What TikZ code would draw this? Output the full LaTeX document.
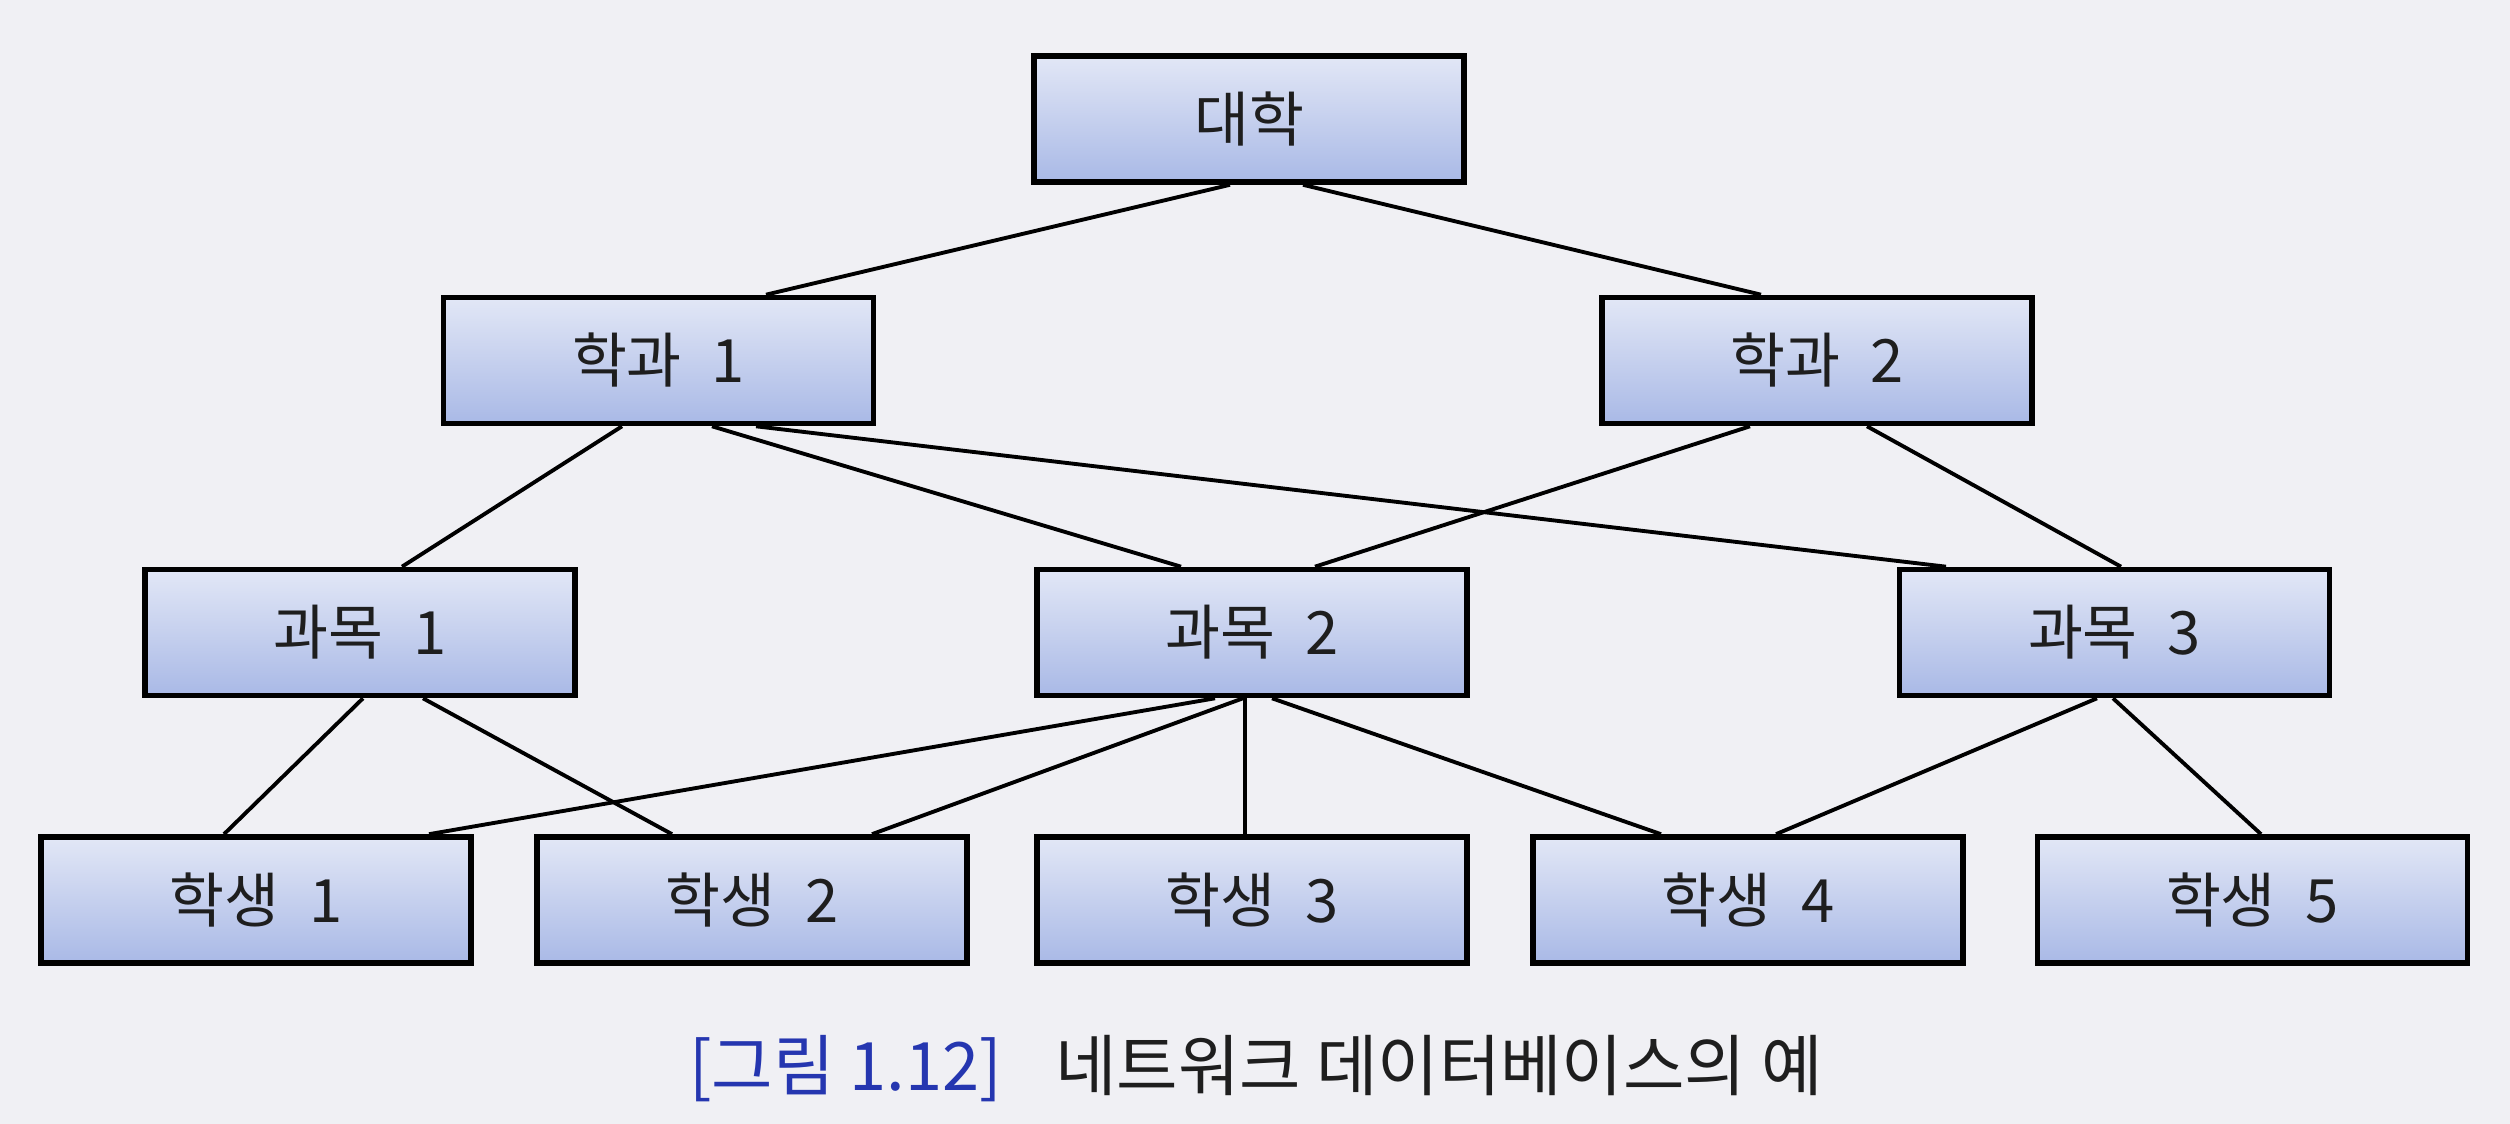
\documentclass[tikz,border=0pt]{standalone}
\usepackage{fontspec}
\setmainfont{Noto Sans CJK KR}
\newfontfamily\kr{Noto Sans CJK KR}
\newcommand{\lblsp}{\hspace{0.5em}}
\definecolor{bgc}{HTML}{F0F0F4}
\definecolor{boxtop}{HTML}{E2E7F6}
\definecolor{boxbot}{HTML}{A9B9E6}
\definecolor{capblue}{HTML}{2536B0}
\definecolor{txt}{HTML}{1E1E1E}
\tikzset{
  dbbox/.style={draw=black, line width=1.6pt, top color=boxtop, bottom color=boxbot,
    minimum width=4.30cm, minimum height=1.26cm, inner sep=0pt,
    font=\kr\fontsize{17}{20}\selectfont, text=txt},
  link/.style={draw=black, line width=1.1pt},
}
\begin{document}
\begin{tikzpicture}
\fill[bgc] (0,0) rectangle (25.10,-11.24);
\useasboundingbox (0,0) rectangle (25.10,-11.24);
% boxes
\node[dbbox] (uni) at (12.49,-1.19) {대학};
\node[dbbox] (d1) at (6.585,-3.605) {학과\lblsp 1};
\node[dbbox] (d2) at (18.17,-3.605) {학과\lblsp 2};
\node[dbbox] (c1) at (3.60,-6.325) {과목\lblsp 1};
\node[dbbox] (c2) at (12.52,-6.325) {과목\lblsp 2};
\node[dbbox] (c3) at (21.145,-6.325) {과목\lblsp 3};
\node[dbbox] (s1) at (2.56,-9.00) {학생\lblsp 1};
\node[dbbox] (s2) at (7.52,-9.00) {학생\lblsp 2};
\node[dbbox] (s3) at (12.52,-9.00) {학생\lblsp 3};
\node[dbbox] (s4) at (17.48,-9.00) {학생\lblsp 4};
\node[dbbox] (s5) at (22.525,-9.00) {학생\lblsp 5};
% connectors
\draw[link] ([xshift=-0.19cm]uni.south) -- ([xshift=1.075cm]d1.north);
\draw[link] ([xshift=0.54cm]uni.south) -- ([xshift=-0.56cm]d2.north);
\draw[link] ([xshift=-0.365cm]d1.south) -- ([xshift=0.42cm]c1.north);
\draw[link] ([xshift=0.535cm]d1.south) -- ([xshift=-0.71cm]c2.north);
\draw[link] ([xshift=0.975cm]d1.south) -- ([xshift=-1.685cm]c3.north);
\draw[link] ([xshift=-0.67cm]d2.south) -- ([xshift=0.63cm]c2.north);
\draw[link] ([xshift=0.50cm]d2.south) -- ([xshift=0.065cm]c3.north);
\draw[link] ([xshift=0.03cm]c1.south) -- ([xshift=-0.32cm]s1.north);
\draw[link] ([xshift=0.63cm]c1.south) -- ([xshift=-0.80cm]s2.north);
\draw[link] ([xshift=-0.37cm]c2.south) -- ([xshift=1.73cm]s1.north);
\draw[link] ([xshift=-0.09cm]c2.south) -- ([xshift=1.20cm]s2.north);
\draw[link] ([xshift=-0.07cm]c2.south) -- ([xshift=-0.07cm]s3.north);
\draw[link] ([xshift=0.20cm]c2.south) -- ([xshift=-0.87cm]s4.north);
\draw[link] ([xshift=-0.175cm]c3.south) -- ([xshift=0.28cm]s4.north);
\draw[link] ([xshift=-0.015cm]c3.south) -- ([xshift=0.085cm]s5.north);
% caption
\node[font=\kr\fontsize{19}{22}\selectfont, text=txt, inner sep=0pt] (cap) at (12.56,-10.69)
  {\textcolor{capblue}{[그림 1.12]}\hspace{0.8em}네트워크 데이터베이스의 예};
\end{tikzpicture}
\end{document}
